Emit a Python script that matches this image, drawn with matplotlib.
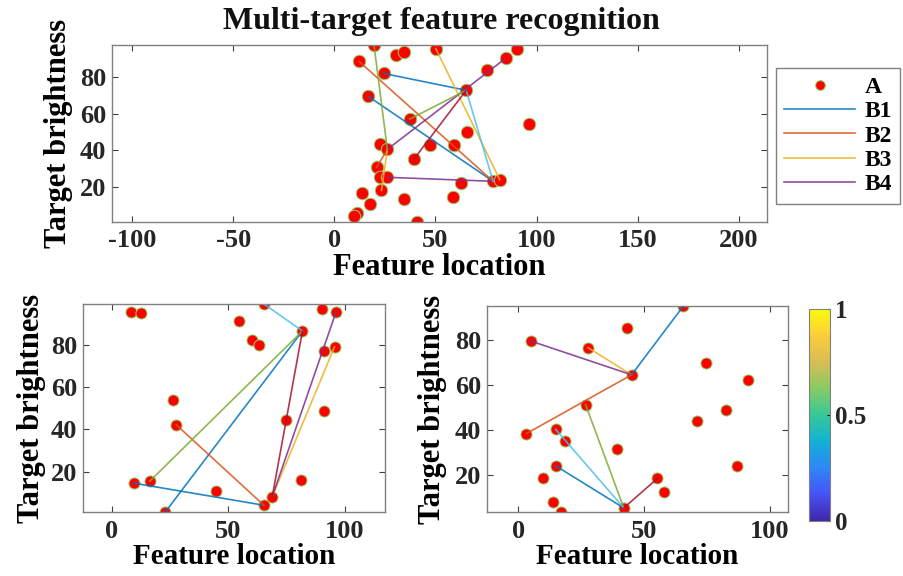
import matplotlib
matplotlib.use('Agg')
import matplotlib.pyplot as plt
import numpy as np
from matplotlib.colors import LinearSegmentedColormap
from matplotlib.lines import Line2D
import matplotlib.cm as cm
import matplotlib.colors as mcolors

plt.rcParams['font.family'] = ['Liberation Serif', 'DejaVu Serif']
plt.rcParams['font.weight'] = 'bold'
plt.rcParams['axes.labelweight'] = 'bold'
plt.rcParams['axes.unicode_minus'] = False

# ---- data ----
# top panel: targets A
top_x = [19.6, 30.7, 34.3, 50.2, 90.4, 84.7, 75.4, 12.2, 24.4, 65.2, 16.7,
         37.3, 96.5, 65.8, 22.8, 26.2, 47.4, 59.2, 39.3, 20.9, 22.8, 26.2,
         62.7, 78.5, 81.8, 23.3, 13.5, 34.5, 58.9, 17.5, 11.4, 9.8, 40.7]
top_y = [97.8, 92.3, 94.0, 95.8, 95.5, 90.5, 84.0, 88.8, 82.2, 73.0, 69.7,
         57.2, 54.6, 50.3, 43.7, 40.6, 42.8, 43.2, 35.2, 30.8, 25.3, 25.3,
         22.2, 23.1, 24.0, 18.1, 16.5, 13.5, 14.6, 10.6, 5.8, 3.9, 0.8]
# links between targets (index pairs), grouped by colour slot
top_links = {
    0: [(8, 9), (10, 23)],
    1: [(7, 23), (19, 15)],
    2: [(3, 24), (25, 15)],
    3: [(5, 15), (21, 23)],
    4: [(0, 15), (11, 9)],
    5: [(9, 23)],
    6: [(9, 18)],
}

bl_x = [8.2, 12.6, 65.3, 90.4, 96.4, 54.6, 81.9, 60.0, 63.3, 91.2, 95.7,
        26.2, 27.6, 91.2, 74.8, 9.3, 16.2, 44.7, 81.3, 68.9, 65.3, 22.9]
bl_y = [95.9, 95.4, 99.5, 97.0, 95.9, 91.4, 86.7, 82.6, 80.0, 77.3, 79.2,
        54.0, 42.2, 48.8, 44.5, 14.5, 15.4, 10.8, 15.9, 8.1, 4.0, 0.8]
bl_links = {
    0: [(6, 21), (15, 20)],
    1: [(12, 20)],
    2: [(10, 19)],
    3: [(4, 19)],
    4: [(6, 16)],
    5: [(2, 6)],
    6: [(6, 19)],
}

br_x = [65.7, 43.1, 4.9, 27.8, 74.6, 45.1, 91.4, 82.6, 26.8, 71.0, 3.3,
        14.9, 18.6, 39.3, 87.0, 14.9, 9.9, 55.4, 58.0, 13.9, 17.2, 42.0]
br_y = [95.2, 85.4, 79.6, 76.6, 69.7, 64.5, 62.3, 49.0, 51.2, 43.9, 38.3,
        40.2, 35.0, 31.6, 23.9, 23.9, 18.6, 18.3, 12.4, 7.7, 3.3, 5.1]
br_links = {
    0: [(0, 5), (15, 21)],
    1: [(10, 5)],
    2: [(3, 5)],
    3: [(2, 5)],
    4: [(8, 21)],
    5: [(11, 21)],
    6: [(21, 17)],
}

legend_labels = ['A', 'B1', 'B2', 'B3', 'B4']
cbar_ticks = [0, 0.5, 1]

# matlab default line colours
mcols = ['#0072BD', '#D95319', '#EDB120', '#7E2F8E', '#77AC30', '#4DBEEE', '#A2142F']

parula = LinearSegmentedColormap.from_list('parula', [
    (0.2422, 0.1504, 0.6603), (0.2810, 0.3228, 0.9579), (0.1786, 0.5289, 0.9682),
    (0.0689, 0.6948, 0.8394), (0.2161, 0.7843, 0.5923), (0.5300, 0.7900, 0.3900),
    (0.8500, 0.7400, 0.3300), (0.9900, 0.8000, 0.2300), (0.9763, 0.9831, 0.0538)])

fig = plt.figure(figsize=(9.04, 5.76), dpi=100)

TICK_FS = 19
LAB_FS = 22


def style_ax(ax, xpad=4, fs=TICK_FS):
    ax.tick_params(direction='in', top=True, right=True, length=4,
                   labelsize=fs, color='#404040')
    ax.tick_params(axis='x', pad=xpad)
    ax.tick_params(axis='y', pad=4)
    for s in ax.spines.values():
        s.set_color('#808080')
        s.set_linewidth(1.0)
    for lab in ax.get_xticklabels() + ax.get_yticklabels():
        lab.set_fontweight('bold')
        lab.set_color('#262626')


def draw_panel(ax, xs, ys, links, msize):
    xs = np.array(xs)
    ys = np.array(ys)
    ax.plot(xs, ys, 'o', ms=msize, mfc='red', mec='#8fd46a', mew=0.7, zorder=2)
    for ci, pairs in links.items():
        for a, b in pairs:
            ax.plot([xs[a], xs[b]], [ys[a], ys[b]], '-', color=mcols[ci],
                    lw=1.2, alpha=0.85, zorder=3)
    ax.set_ylim(ys.min(), ys.max())
    ax.set_yticks([20, 40, 60, 80])


# top panel
ax1 = fig.add_axes([112 / 904, 1 - 222 / 576, 655 / 904, 177 / 576])
draw_panel(ax1, top_x, top_y, top_links, 9)
ax1.set_xlim(-110, 214)
ax1.set_xticks([-100, -50, 0, 50, 100, 150, 200])
fig.text(441 / 904, 1 - 22 / 576, 'Multi-target feature recognition',
         fontsize=23, fontweight='bold', ha='center', va='center', color='#111111')
ax1.set_xlabel('Feature location', fontsize=LAB_FS, labelpad=1)
ax1.set_ylabel('Target brightness', fontsize=LAB_FS, labelpad=5)
style_ax(ax1, xpad=5)

# bottom left
ax2 = fig.add_axes([83 / 904, 1 - 512 / 576, 302 / 904, 208 / 576])
draw_panel(ax2, bl_x, bl_y, bl_links, 8)
ax2.set_xlim(-12.5, 117.4)
ax2.set_xticks([0, 50, 100])
ax2.set_xlabel('Feature location', fontsize=21, labelpad=0)
ax2.set_ylabel('Target brightness', fontsize=LAB_FS, labelpad=4)
style_ax(ax2, xpad=6)

# bottom right
ax3 = fig.add_axes([487 / 904, 1 - 512 / 576, 301 / 904, 206 / 576])
draw_panel(ax3, br_x, br_y, br_links, 8)
ax3.set_xlim(-12.4, 107.3)
ax3.set_xticks([0, 50, 100])
ax3.set_xlabel('Feature location', fontsize=21, labelpad=0)
ax3.set_ylabel('Target brightness', fontsize=LAB_FS, labelpad=6)
style_ax(ax3, xpad=6)

# colorbar
cax = fig.add_axes([809 / 904, 1 - 521 / 576, 21 / 904, 212 / 576])
sm = cm.ScalarMappable(norm=mcolors.Normalize(0, 1), cmap=parula)
cb = fig.colorbar(sm, cax=cax, ticks=cbar_ticks)
cb.ax.set_yticklabels(['0', '0.5', '1'])
cb.outline.set_edgecolor('#808080')
cb.ax.tick_params(labelsize=18, length=2, direction='in')
for lab in cb.ax.get_yticklabels():
    lab.set_fontweight('bold')
    lab.set_color('#262626')

# legend
handles = [Line2D([], [], ls='none', marker='o', ms=7, mfc='red', mec='#8fd46a', mew=0.7)]
for c in mcols[:4]:
    handles.append(Line2D([], [], color=c, lw=1.2, alpha=0.85))
leg = fig.legend(handles, legend_labels, loc='upper left',
                 bbox_to_anchor=(776 / 904, 1 - 68 / 576), fancybox=False,
                 prop={'weight': 'bold', 'size': 17}, handlelength=3.0,
                 labelspacing=0.12, borderaxespad=0, handletextpad=0.4,
                 borderpad=0.35, framealpha=1)
leg.get_frame().set_edgecolor('#808080')
leg.get_frame().set_linewidth(1.0)

fig.savefig('out.png', dpi=100)
